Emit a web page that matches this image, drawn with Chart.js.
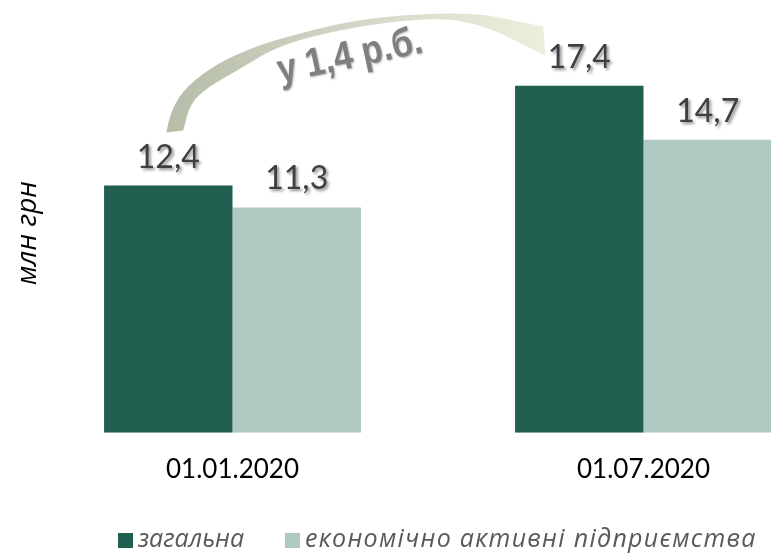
<!DOCTYPE html>
<html>
<head>
<meta charset="utf-8">
<script src="https://cdn.jsdelivr.net/npm/chart.js@4"></script>
<style>
  html, body { margin: 0; padding: 0; background: #fff; overflow: hidden; }
  #wrap { width: 771px; height: 553px; overflow: hidden; }
</style>
</head>
<body>
<div id="wrap"><canvas id="myChart" width="849" height="553"></canvas></div>
<script>
const categories = ["01.01.2020", "01.07.2020"];
const totalValues = [12.4, 17.4];
const activeValues = [11.3, 14.7];
const seriesNames = ["загальна", "економічно активні підприємства"];
const growthNote = "у 1,4 р.б.";
const axisTitle = "млн грн";

const darkGreen = "#216050";
const lightGreen = "#B0C8C2";

function fmt(v) {
  return v.toFixed(1).replace(".", ",");
}

// value labels above bars, with a soft shadow
const valueLabels = {
  id: "valueLabels",
  afterDatasetsDraw(chart) {
    const ctx = chart.ctx;
    ctx.save();
    ctx.font = "32px Lato, 'Open Sans', sans-serif";
    ctx.textAlign = "center";
    ctx.textBaseline = "alphabetic";
    ctx.fillStyle = "#404040";
    ctx.shadowColor = "rgba(0,0,0,0.45)";
    ctx.shadowOffsetX = 2;
    ctx.shadowOffsetY = 2;
    ctx.shadowBlur = 3;
    chart.data.datasets.forEach((ds, i) => {
      chart.getDatasetMeta(i).data.forEach((bar, j) => {
        ctx.fillText(fmt(ds.data[j]), bar.x, bar.y - 18);
      });
    });
    ctx.restore();
  }
};

// smooth line through a list of points (quadratic through midpoints)
function smoothTo(ctx, pts, start) {
  if (start) ctx.moveTo(pts[0][0], pts[0][1]);
  else ctx.lineTo(pts[0][0], pts[0][1]);
  for (let i = 1; i < pts.length - 1; i++) {
    const mx = (pts[i][0] + pts[i + 1][0]) / 2;
    const my = (pts[i][1] + pts[i + 1][1]) / 2;
    ctx.quadraticCurveTo(pts[i][0], pts[i][1], mx, my);
  }
  const last = pts[pts.length - 1];
  ctx.lineTo(last[0], last[1]);
}

// y axis title, legend and the curved growth arrow
const extras = {
  id: "extras",
  afterDraw(chart) {
    const ctx = chart.ctx;
    const p = chart.getDatasetMeta(0).data[0];
    const A = (dx, dy) => [p.x + dx, p.y + dy];

    ctx.save();
    ctx.translate(28, 233);
    ctx.rotate(-Math.PI / 2);
    ctx.font = "italic 28px 'Open Sans', sans-serif";
    ctx.fillStyle = "#000";
    ctx.textAlign = "center";
    ctx.textBaseline = "middle";
    ctx.fillText(axisTitle, 0, 0);
    ctx.restore();

    // legend
    ctx.save();
    ctx.font = "italic 25px 'Open Sans', sans-serif";
    ctx.textBaseline = "middle";
    const legendX = [118, 285];
    const spacing = ["0px", "1.3px"];
    chart.data.datasets.forEach((ds, i) => {
      ctx.fillStyle = ds.backgroundColor;
      ctx.fillRect(legendX[i], 533, 15, 15);
      ctx.fillStyle = "#595959";
      ctx.letterSpacing = spacing[i];
      ctx.fillText(ds.label, legendX[i] + 20, 540);
    });
    ctx.restore();

    // arrow
    const outer = [A(-2, -53), A(2, -75), A(19, -100), A(49, -122), A(82, -137),
      A(112, -147), A(182, -165), A(252, -172), A(312, -172), A(345, -165)];
    const head = [A(375, -159), A(377, -130), A(332, -152)];
    const inner = [A(332, -152), A(302, -165), A(252, -167), A(182, -158), A(112, -141),
      A(69, -115), A(39, -98), A(22, -82), A(15, -55)];
    ctx.save();
    const grad = ctx.createLinearGradient(outer[0][0], 0, head[1][0], 0);
    grad.addColorStop(0, "#B5BCA8");
    grad.addColorStop(0.5, "#D3D8C6");
    grad.addColorStop(1, "#ECEFDC");
    ctx.fillStyle = grad;
    ctx.beginPath();
    smoothTo(ctx, outer, true);
    ctx.lineTo(head[0][0], head[0][1]);
    ctx.lineTo(head[1][0], head[1][1]);
    smoothTo(ctx, inner, false);
    ctx.closePath();
    ctx.fill();
    ctx.restore();

    const t = A(184, -118);
    ctx.save();
    ctx.translate(t[0], t[1]);
    ctx.rotate(-12 * Math.PI / 180);
    ctx.scale(0.86, 1);
    ctx.font = "bold 40px 'Liberation Sans', Arial, sans-serif";
    ctx.fillStyle = "#7F7F7F";
    ctx.textAlign = "center";
    ctx.textBaseline = "alphabetic";
    ctx.shadowColor = "rgba(0,0,0,0.3)";
    ctx.shadowOffsetX = 1;
    ctx.shadowOffsetY = 1;
    ctx.shadowBlur = 2;
    ctx.fillText(growthNote, 0, 0);
    ctx.restore();
  }
};

const data = {
  labels: categories,
  datasets: [
    {
      label: seriesNames[0],
      data: totalValues,
      backgroundColor: darkGreen,
      borderWidth: 0,
    },
    {
      label: seriesNames[1],
      data: activeValues,
      backgroundColor: lightGreen,
      borderWidth: 0,
    },
  ],
};

const config = {
  type: "bar",
  data: data,
  options: {
    responsive: false,
    animation: false,
    layout: { padding: { left: 27, right: 0, top: 34, bottom: 47 } },
    datasets: { bar: { categoryPercentage: 0.625, barPercentage: 1.0 } },
    scales: {
      x: {
        grid: { display: false, drawTicks: false },
        border: { display: false },
        ticks: {
          color: "#000",
          padding: 21,
          font: { family: "Lato, 'Open Sans', sans-serif", size: 26 },
        },
      },
      y: { display: false, min: 0, max: 20 },
    },
    plugins: {
      tooltip: { enabled: false },
      legend: { display: false },
    },
  },
  plugins: [valueLabels, extras],
};

const barChart = new Chart(document.getElementById("myChart"), config);
</script>
</body>
</html>
